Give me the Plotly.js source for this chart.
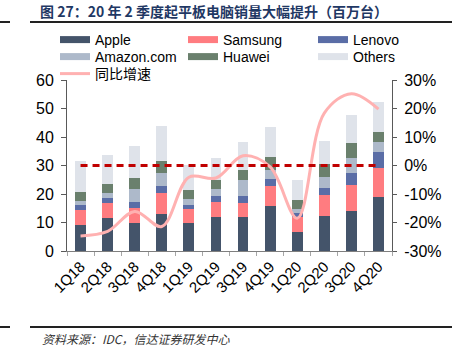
<!DOCTYPE html>
<html>
<head>
<meta charset="utf-8">
<script src="https://cdn.plot.ly/plotly-3.0.1.min.js"></script>
<style>html,body{margin:0;padding:0;background:#fff;}#chart{width:452px;height:352px;}</style>
</head>
<body>
<div id="chart"></div>
<script>
const quarters = ['1Q18','2Q18','3Q18','4Q18','1Q19','2Q19','3Q19','4Q19','1Q20','2Q20','3Q20','4Q20'];
const apple   = [9.0, 11.6, 9.7, 12.9, 9.8, 12.1, 11.8, 15.9, 6.8, 12.4, 13.9, 18.9];
const samsung = [5.5, 5.1, 5.5, 7.5, 4.9, 5.2, 5.0, 7.0, 5.2, 7.1, 9.4, 10.3];
const lenovo  = [1.7, 1.9, 2.1, 2.3, 1.5, 1.9, 2.4, 2.5, 1.5, 2.7, 4.1, 5.5];
const amazon  = [1.4, 1.7, 4.6, 4.8, 2.2, 2.4, 5.7, 3.1, 1.3, 3.6, 5.4, 3.7];
const huawei  = [3.2, 3.3, 3.6, 4.2, 3.0, 3.2, 3.6, 4.6, 3.2, 4.6, 5.0, 3.2];
const others  = [10.9, 10.2, 11.4, 12.3, 8.8, 7.9, 9.7, 10.5, 6.8, 8.3, 10.0, 10.8];
const growth  = [-24.7, -23.1, -16.1, -21.4, -4.1, -4.4, 3.4, -0.5, -18.5, 18.4, 25.2, 19.8];
const zeroLine = quarters.map(() => 0);
const leftTicks = [0, 10, 20, 30, 40, 50, 60];
const pctTicks = [-30, -20, -10, 0, 10, 20, 30];
const pctLabels = ['-30%', '-20%', '-10%', '0%', '10%', '20%', '30%'];

const FONT = 'Liberation Sans, Arial, Noto Sans CJK SC, sans-serif';
const series = [
  {name: 'Apple', data: apple, color: '#44546a'},
  {name: 'Samsung', data: samsung, color: '#ff7c80'},
  {name: 'Lenovo', data: lenovo, color: '#5a6da6'},
  {name: 'Amazon.com', data: amazon, color: '#adb9ca'},
  {name: 'Huawei', data: huawei, color: '#6a806d'},
  {name: 'Others', data: others, color: '#dfe3ea'}
];
const legendIds = ['legend', 'legend2', 'legend3', 'legend4', 'legend5', 'legend6', 'legend7'];

const traces = [];
series.forEach(s => {
  traces.push({type: 'bar', x: quarters, y: s.data, name: s.name, showlegend: false,
    marker: {color: s.color, line: {width: 0}}, hoverinfo: 'skip'});
});
series.forEach((s, i) => {
  traces.push({type: 'scatter', mode: 'lines', x: [null], y: [null], name: s.name,
    legend: legendIds[i], line: {color: s.color, width: 7}, hoverinfo: 'skip'});
});
traces.push({type: 'scatter', mode: 'lines', x: quarters, y: growth, yaxis: 'y2', name: '同比增速',
  legend: legendIds[6], line: {color: '#ffb1b1', width: 3, shape: 'spline', smoothing: 1}});
traces.push({type: 'scatter', mode: 'lines', x: quarters, y: zeroLine, yaxis: 'y2', showlegend: false,
  line: {color: '#c00000', width: 3, dash: '7px,5px'}});

const L = 67, R = 60, T = 80, B = 101, W = 452, H = 352;
const pw = W - L - R, ph = H - T - B;
const px = v => (v - L) / pw;
const py = v => (H - B - v) / ph;

const colX = [55, 183, 313];
const rowY = [40, 57, 74];
function leg(col, row) {
  return {orientation: 'v', xanchor: 'left', yanchor: 'middle', x: px(colX[col]), y: py(rowY[row]),
    font: {family: FONT, size: 14, color: '#000'}, bgcolor: 'rgba(0,0,0,0)', borderwidth: 0,
    itemclick: false, itemdoubleclick: false};
}

const layout = {
  width: W, height: H,
  margin: {l: L, r: R, t: T, b: B},
  paper_bgcolor: '#fff', plot_bgcolor: '#fff',
  font: {family: FONT, size: 15, color: '#000'},
  barmode: 'stack', bargap: 0.6,
  title: {text: '图 27：20 年 2 季度起平板电脑销量大幅提升（百万台）',
    font: {family: 'Noto Sans CJK SC, sans-serif', size: 14, color: '#1f3864', weight: 'bold'},
    x: 40 / W, xanchor: 'left', xref: 'container', y: 1 - 12 / H, yanchor: 'middle', yref: 'container'},
  xaxis: {type: 'category', range: [-0.5, 11.5], tickson: 'boundaries', ticks: 'outside', ticklen: 4,
    tickcolor: '#a6a6a6', showline: true, linecolor: '#7f7f7f', linewidth: 1, tickangle: -45,
    showgrid: false, zeroline: false, tickfont: {family: FONT, size: 15, color: '#000'}},
  yaxis: {range: [0, 60], tickvals: leftTicks, ticks: 'outside', ticklen: 5, tickcolor: '#595959',
    showline: true, linecolor: '#595959', linewidth: 1, showgrid: false, zeroline: false,
    tickfont: {family: FONT, size: 16, color: '#000'}, ticklabelstandoff: 4},
  yaxis2: {overlaying: 'y', side: 'right', range: [-30, 30], tickvals: pctTicks, ticktext: pctLabels,
    ticks: 'outside', ticklen: 4, tickcolor: '#595959', showline: true, linecolor: '#595959', linewidth: 1,
    showgrid: false, zeroline: false, tickfont: {family: FONT, size: 16, color: '#000'}, ticklabelstandoff: 4},
  legend: leg(0, 0), legend2: leg(1, 0), legend3: leg(2, 0),
  legend4: leg(0, 1), legend5: leg(1, 1), legend6: leg(2, 1),
  legend7: leg(0, 2),
  shapes: [
    {type: 'line', xref: 'paper', yref: 'paper', x0: px(0), x1: px(10), y0: py(22), y1: py(22), line: {color: '#222', width: 2}},
    {type: 'line', xref: 'paper', yref: 'paper', x0: px(30), x1: px(452), y0: py(22), y1: py(22), line: {color: '#222', width: 2}},
    {type: 'line', xref: 'paper', yref: 'paper', x0: px(0), x1: px(10), y0: py(327), y1: py(327), line: {color: '#222', width: 2}},
    {type: 'line', xref: 'paper', yref: 'paper', x0: px(30), x1: px(452), y0: py(327), y1: py(327), line: {color: '#222', width: 2}}
  ],
  annotations: [
    {text: '资料来源：IDC，信达证券研发中心', xref: 'paper', yref: 'paper', x: px(40), y: py(338),
     xanchor: 'left', yanchor: 'middle', showarrow: false,
     font: {family: 'Noto Sans CJK SC, sans-serif', size: 12, color: '#333', style: 'italic'}}
  ]
};

Plotly.newPlot('chart', traces, layout, {staticPlot: true, displayModeBar: false});
</script>
</body>
</html>
